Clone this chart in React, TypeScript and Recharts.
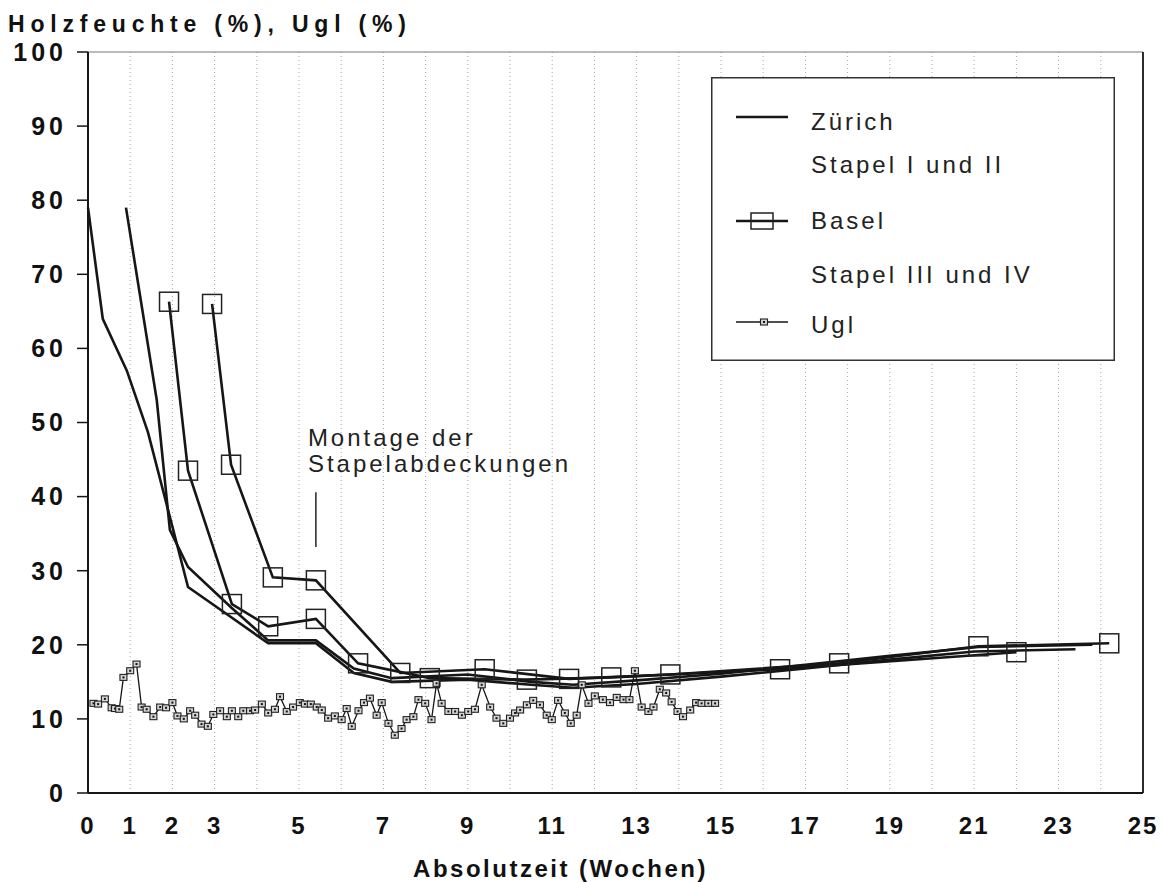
import { LineChart, Line, XAxis, YAxis, CartesianGrid, ReferenceLine, Legend, Label } from 'recharts';

const FONT = "'Liberation Sans', Arial, Helvetica, sans-serif";
const INK = '#161616';

// axis ticks
const Y_TICKS = [0, 10, 20, 30, 40, 50, 60, 70, 80, 90, 100];
const X_TICKS = [0, 1, 2, 3, 5, 7, 9, 11, 13, 15, 17, 19, 21, 23, 25];
const GRID_WEEKS = [0, 1, 2, 3, 4, 5, 6, 7, 8, 9, 10, 11, 12, 13, 14, 15, 16, 17, 18, 19, 20, 21, 22, 23, 24, 25];

// Zürich, Stapel I und II (lines only)
const zurichIWeeks = [0, 0.35, 0.92, 1.42, 2.37, 3.2, 4.27, 5.4, 6.3, 7.2, 9.0, 10.5, 11.5, 13.0, 15.0, 17.0, 19.0, 21.0, 23.4];
const zurichIValues = [79, 64, 57, 48.7, 27.8, 24.5, 20.2, 20.2, 16.2, 15.0, 15.3, 14.6, 14.2, 14.7, 15.7, 16.8, 18.0, 19.1, 19.4];
const zurichIIWeeks = [0.9, 1.63, 1.94, 2.37, 3.4, 4.27, 5.4, 6.3, 7.2, 9.0, 10.5, 11.5, 13.0, 15.0, 17.0, 19.0, 21.1, 23.8];
const zurichIIValues = [79, 53, 35.5, 30.5, 25.0, 20.6, 20.6, 16.8, 15.5, 16.0, 15.0, 14.6, 15.2, 16.1, 17.3, 18.5, 19.7, 20.0];

// Basel, Stapel III und IV (square markers)
const baselIIIWeeks = [1.92, 2.37, 3.41, 4.27, 5.4, 6.4, 8.1, 10.4, 12.4, 16.4, 22.0];
const baselIIIValues = [66.3, 43.5, 25.5, 22.5, 23.5, 17.5, 15.5, 15.3, 15.6, 16.7, 19.0];
const baselIVWeeks = [2.94, 3.39, 4.38, 5.4, 7.4, 9.4, 11.4, 13.8, 17.8, 21.1, 24.2];
const baselIVValues = [66.0, 44.3, 29.1, 28.7, 16.2, 16.7, 15.4, 16.0, 17.5, 19.8, 20.2];

// Ugl, daily readings
const uglWeeks = [
  0.13, 0.24, 0.4, 0.56, 0.64, 0.74, 0.84, 1.0, 1.15, 1.27,
  1.39, 1.55, 1.71, 1.85, 2.0, 2.12, 2.27, 2.42, 2.54, 2.69,
  2.84, 2.97, 3.13, 3.29, 3.41, 3.56, 3.68, 3.84, 3.96, 4.12,
  4.27, 4.43, 4.55, 4.71, 4.86, 5.02, 5.14, 5.28, 5.42, 5.54,
  5.69, 5.85, 6.01, 6.13, 6.25, 6.41, 6.54, 6.68, 6.84, 6.96,
  7.12, 7.27, 7.43, 7.55, 7.71, 7.83, 7.99, 8.14, 8.26, 8.38,
  8.54, 8.7, 8.86, 9.01, 9.17, 9.33, 9.53, 9.68, 9.84, 10.0,
  10.12, 10.24, 10.4, 10.55, 10.71, 10.87, 10.99, 11.14, 11.3, 11.44,
  11.58, 11.7, 11.86, 12.01, 12.2, 12.37, 12.53, 12.69, 12.83, 12.96,
  13.12, 13.28, 13.4, 13.55, 13.7, 13.83, 13.97, 14.1, 14.27, 14.41,
  14.54, 14.7, 14.86,
];
const uglValues = [
  12.1, 12.0, 12.7, 11.5, 11.4, 11.3, 15.6, 16.5, 17.4, 11.6,
  11.3, 10.3, 11.6, 11.5, 12.2, 10.4, 10.0, 11.1, 10.5, 9.3,
  9.0, 10.6, 11.1, 10.3, 11.1, 10.3, 11.1, 11.1, 11.2, 12.0,
  10.8, 11.3, 13.0, 11.0, 11.6, 12.2, 12.0, 12.0, 11.6, 11.2,
  10.1, 10.4, 9.9, 11.4, 9.0, 11.1, 12.2, 12.8, 10.5, 12.2,
  9.4, 7.8, 8.7, 9.9, 10.3, 12.6, 12.1, 9.9, 14.8, 12.1,
  11.0, 11.0, 10.5, 11.0, 11.3, 14.6, 11.6, 10.1, 9.4, 10.1,
  10.8, 11.2, 11.9, 12.5, 11.9, 10.5, 9.9, 12.5, 10.8, 9.4,
  10.5, 14.6, 12.1, 13.1, 12.6, 12.2, 12.9, 12.6, 12.6, 16.5,
  11.6, 11.0, 11.6, 14.0, 13.5, 12.3, 11.0, 10.3, 11.2, 12.2,
  12.1, 12.1, 12.1,
];

// annotation marker (Montage der Stapelabdeckungen)
const montageWeek = 5.4;
const montageRange = [33.2, 40.6];

const toPoints = (weeks: number[], values: number[]) => weeks.map((w, i) => ({ w, v: values[i] }));

const zurichI = toPoints(zurichIWeeks, zurichIValues);
const zurichII = toPoints(zurichIIWeeks, zurichIIValues);
const baselIII = toPoints(baselIIIWeeks, baselIIIValues);
const baselIV = toPoints(baselIVWeeks, baselIVValues);
const ugl = toPoints(uglWeeks, uglValues);

const BaselDot = (props: any) => {
  const { cx, cy, index } = props;
  if (cx == null || cy == null) return <g key={index} />;
  return <rect key={index} x={cx - 9.5} y={cy - 9.5} width={19} height={19} fill="none" stroke="#222" strokeWidth={1.5} />;
};

const UglDot = (props: any) => {
  const { cx, cy, index } = props;
  if (cx == null || cy == null) return <g key={index} />;
  return (
    <g key={index}>
      <rect x={cx - 3.5} y={cy - 3} width={7} height={6} fill="#d4d4d4" stroke="#222" strokeWidth={1.1} />
      <rect x={cx - 1} y={cy - 1} width={2} height={2} fill="#111" />
    </g>
  );
};

const legendText = { fontFamily: FONT, fontSize: 24, letterSpacing: 3, fill: '#222' };

function LegendBox() {
  return (
    <svg width={404} height={284}>
      <rect x={0.75} y={0.75} width={402.5} height={282.5} fill="#fff" stroke="#333" strokeWidth={1.5} />
      <line x1={25} x2={77} y1={40} y2={40} stroke={INK} strokeWidth={2.6} />
      <text x={100} y={53} {...legendText}>Zürich</text>
      <text x={100} y={96} {...legendText}>Stapel I und II</text>
      <line x1={25} x2={77} y1={144} y2={144} stroke={INK} strokeWidth={2.6} />
      <rect x={40} y={136} width={22} height={16} fill="none" stroke="#222" strokeWidth={1.5} />
      <text x={100} y={152} {...legendText}>Basel</text>
      <text x={100} y={206} {...legendText}>Stapel III und IV</text>
      <line x1={25} x2={77} y1={245} y2={245} stroke={INK} strokeWidth={1.3} />
      <rect x={49.5} y={242} width={7} height={6} fill="#d4d4d4" stroke="#222" strokeWidth={1.1} />
      <rect x={52} y={244} width={2} height={2} fill="#111" />
      <text x={100} y={256} {...legendText}>Ugl</text>
    </svg>
  );
}

const boldText = { fontFamily: FONT, fontSize: 24, fontWeight: 700, fill: '#111' };

export default function App() {
  return (
    <div style={{ position: 'absolute', left: 0, top: 0, background: '#fff' }}>
      <LineChart width={1163} height={882} margin={{ top: 52, right: 20, bottom: 29, left: 8 }}>
        <CartesianGrid horizontal={false} verticalValues={GRID_WEEKS} stroke="#a8a8a8" strokeDasharray="1 3" />
        <XAxis
          dataKey="w"
          type="number"
          domain={[0, 25]}
          ticks={X_TICKS}
          interval={0}
          height={60}
          tickLine={false}
          tickSize={0}
          tickMargin={24}
          axisLine={{ stroke: INK, strokeWidth: 2 }}
          tick={{ ...boldText, letterSpacing: 2 }}
        >
          <Label
            content={(p: any) => (
              <text
                x={p.viewBox.x + p.viewBox.width / 2 - 55}
                y={p.viewBox.y + 84}
                textAnchor="middle"
                {...boldText}
                letterSpacing={2.5}
              >
                Absolutzeit (Wochen)
              </text>
            )}
          />
        </XAxis>
        <YAxis
          type="number"
          domain={[0, 100]}
          ticks={Y_TICKS}
          interval={0}
          width={80}
          tickSize={11}
          tickMargin={10}
          axisLine={{ stroke: INK, strokeWidth: 2 }}
          tickLine={{ stroke: INK, strokeWidth: 1.5 }}
          tick={{ ...boldText, fontSize: 25, letterSpacing: 4 }}
        >
          <Label
            content={(p: any) => (
              <text x={p.viewBox.x} y={p.viewBox.y - 20} {...boldText} fontSize={23} letterSpacing={5.8}>
                Holzfeuchte (%), Ugl (%)
              </text>
            )}
          />
        </YAxis>
        <ReferenceLine y={100} stroke="#777" strokeWidth={1} />
        <ReferenceLine x={25} stroke={INK} strokeWidth={1.8} />
        <ReferenceLine
          segment={[
            { x: montageWeek, y: montageRange[0] },
            { x: montageWeek, y: montageRange[1] },
          ]}
          stroke="#222"
          strokeWidth={1.5}
        >
          <Label
            content={(p: any) => (
              <g>
                <text x={p.viewBox.x - 8} y={p.viewBox.y - 46} {...legendText}>Montage der</text>
                <text x={p.viewBox.x - 8} y={p.viewBox.y - 20} {...legendText}>Stapelabdeckungen</text>
              </g>
            )}
          />
        </ReferenceLine>
        <Legend
          layout="vertical"
          align="center"
          verticalAlign="middle"
          content={() => <LegendBox />}
          wrapperStyle={{ left: 711, top: 77, width: 404, height: 284 }}
        />
        <Line data={ugl} dataKey="v" name="Ugl" stroke={INK} strokeWidth={1.3} dot={UglDot} isAnimationActive={false} />
        <Line data={zurichI} dataKey="v" name="Zürich Stapel I" stroke={INK} strokeWidth={2.6} dot={false} isAnimationActive={false} />
        <Line data={zurichII} dataKey="v" name="Zürich Stapel II" stroke={INK} strokeWidth={2.6} dot={false} isAnimationActive={false} />
        <Line data={baselIII} dataKey="v" name="Basel Stapel III" stroke={INK} strokeWidth={2.6} dot={BaselDot} isAnimationActive={false} />
        <Line data={baselIV} dataKey="v" name="Basel Stapel IV" stroke={INK} strokeWidth={2.6} dot={BaselDot} isAnimationActive={false} />
      </LineChart>
    </div>
  );
}
